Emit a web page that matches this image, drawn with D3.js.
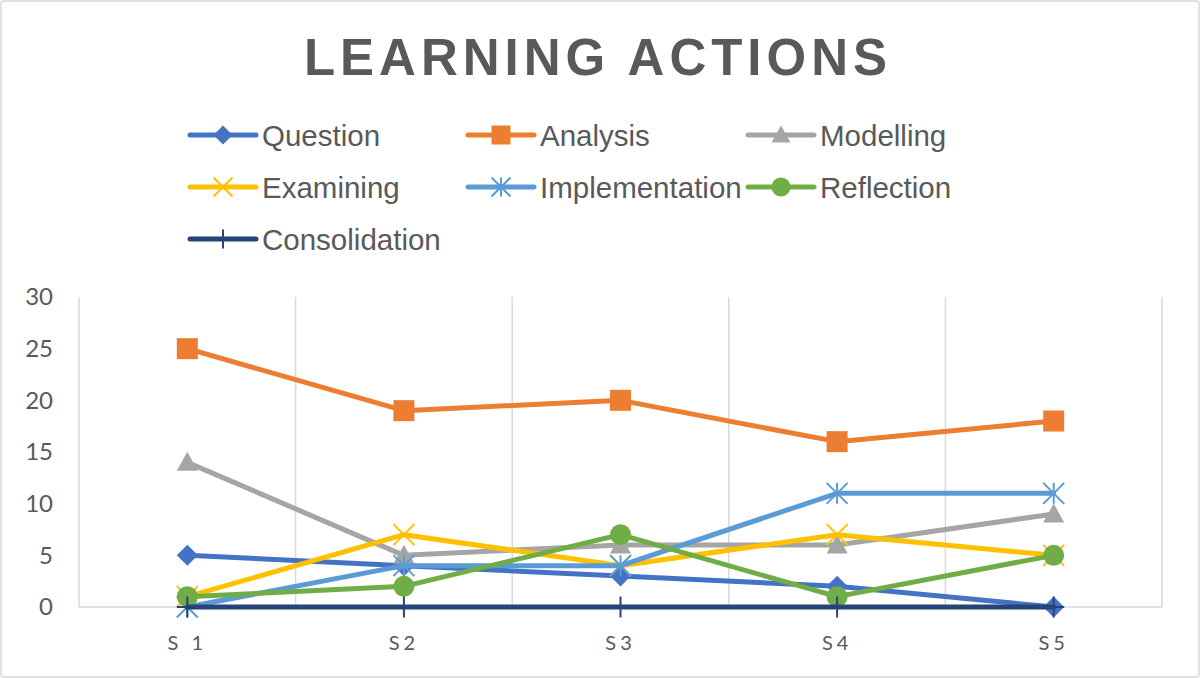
<!DOCTYPE html>
<html>
<head>
<meta charset="utf-8">
<script src="https://cdn.jsdelivr.net/npm/d3@7"></script>
<style>
  body { margin: 0; background: #fff; }
  svg { display: block; }
</style>
</head>
<body>
<div id="app"></div>
<script>
// chart data
const sessions = ['S 1', 'S2', 'S3', 'S4', 'S5']
const seriesNames = ['Question', 'Analysis', 'Modelling', 'Examining', 'Implementation', 'Reflection', 'Consolidation']
const question = [5, 4, 3, 2, 0]
const analysis = [25, 19, 20, 16, 18]
const modelling = [14, 5, 6, 6, 9]
const examining = [1, 7, 4, 7, 5]
const implementation = [0, 4, 4, 11, 11]
const reflection = [1, 2, 7, 1, 5]
const consolidation = [0, 0, 0, 0, 0]
const yTicks = [0, 5, 10, 15, 20, 25, 30]

const colors = ['#4472C4', '#ED7D31', '#A5A5A5', '#FFC000', '#5B9BD5', '#70AD47', '#264478']
const markers = ['diamond', 'square', 'triangle', 'x', 'star', 'circle', 'plus']
const values = [question, analysis, modelling, examining, implementation, reflection, consolidation]

const series = seriesNames.map((name, i) => ({ name, color: colors[i], marker: markers[i], values: values[i] }))

const W = 1200, H = 678
const plot = { left: 79, right: 1162, top: 297, bottom: 607 }

const svg = d3.select('#app').append('svg').attr('width', W).attr('height', H)

svg.append('rect')
  .attr('x', 1).attr('y', 1).attr('width', W - 2).attr('height', H - 2)
  .attr('rx', 3)
  .attr('fill', '#fff').attr('stroke', '#d9d9d9').attr('stroke-width', 1.5)

// title
svg.append('text')
  .attr('x', 598).attr('y', 75)
  .attr('text-anchor', 'middle')
  .style('font-family', '"Liberation Sans", Arial, sans-serif')
  .style('font-weight', 'bold')
  .style('font-size', '51px')
  .style('letter-spacing', '5px')
  .style('fill', '#595959')
  .text('LEARNING ACTIONS')

const x = d3.scaleBand().domain(sessions).range([plot.left, plot.right])
const y = d3.scaleLinear().domain([0, 30]).range([plot.bottom, plot.top])

// vertical gridlines on category boundaries
const bounds = sessions.map(s => x(s)).concat([plot.right])
svg.append('g').selectAll('line').data(bounds).join('line')
  .attr('x1', d => d).attr('x2', d => d)
  .attr('y1', plot.top).attr('y2', plot.bottom)
  .attr('stroke', '#d9d9d9').attr('stroke-width', 1.5)

svg.append('line')
  .attr('x1', plot.left).attr('x2', plot.right)
  .attr('y1', plot.bottom).attr('y2', plot.bottom)
  .attr('stroke', '#d9d9d9').attr('stroke-width', 1.5)

// y axis labels
const yAxis = d3.axisLeft(y).tickValues(yTicks).tickSize(0).tickPadding(0)
svg.append('g')
  .attr('transform', `translate(${plot.left - 26},0)`)
  .call(yAxis)
  .call(g => g.select('.domain').remove())
  .call(g => g.selectAll('text')
    .style('font-family', 'Lato, "Open Sans", sans-serif')
    .style('font-size', '24px')
    .style('fill', '#595959'))

// x axis labels
const xAxis = d3.axisBottom(x).tickSize(0).tickPadding(0)
svg.append('g')
  .attr('transform', `translate(0,${plot.bottom + 29})`)
  .call(xAxis)
  .call(g => g.select('.domain').remove())
  .call(g => g.selectAll('text')
    .attr('dy', '0.71em')
    .style('font-family', 'Lato, "Open Sans", sans-serif')
    .style('font-size', '20px')
    .style('letter-spacing', '4px')
    .style('fill', '#595959'))

const cx = s => x(s) + x.bandwidth() / 2

function drawMarker (g, type, color, size) {
  const r = size / 2
  if (type === 'diamond') {
    g.append('path').attr('d', `M0,${-r}L${r},0L0,${r}L${-r},0Z`).attr('fill', color)
  } else if (type === 'square') {
    g.append('rect').attr('x', -r).attr('y', -r).attr('width', size).attr('height', size).attr('fill', color)
  } else if (type === 'triangle') {
    g.append('path').attr('d', `M0,${-r}L${r},${r * 0.8}L${-r},${r * 0.8}Z`).attr('fill', color)
  } else if (type === 'circle') {
    g.append('circle').attr('r', r).attr('fill', color)
  } else if (type === 'x') {
    g.append('path').attr('d', `M${-r},${-r}L${r},${r}M${-r},${r}L${r},${-r}`)
      .attr('stroke', color).attr('stroke-width', 2)
  } else if (type === 'star') {
    g.append('path').attr('d', `M${-r},${-r}L${r},${r}M${-r},${r}L${r},${-r}M0,${-r}L0,${r}`)
      .attr('stroke', color).attr('stroke-width', 2)
  } else if (type === 'plus') {
    g.append('path').attr('d', `M0,${-r}L0,${r}M${-r},0L${r},0`)
      .attr('stroke', color).attr('stroke-width', 2)
  }
}

const line = d3.line().x((d, i) => cx(sessions[i])).y(d => y(d))

series.forEach(s => {
  const g = svg.append('g')
  g.append('path')
    .datum(s.values)
    .attr('d', line)
    .attr('fill', 'none')
    .attr('stroke', s.color)
    .attr('stroke-width', 5)
    .attr('stroke-linejoin', 'round')
    .attr('stroke-linecap', 'round')
  s.values.forEach((v, i) => {
    const m = g.append('g').attr('transform', `translate(${cx(sessions[i])},${y(v)})`)
    drawMarker(m, s.marker, s.color, 21)
  })
})

// legend
const legendCols = [190, 468, 748]
const legendRows = [135, 187, 239]
series.forEach((s, i) => {
  const lx = legendCols[i % 3], ly = legendRows[Math.floor(i / 3)]
  const g = svg.append('g').attr('transform', `translate(${lx},${ly})`)
  g.append('line')
    .attr('x1', 0).attr('x2', 66).attr('y1', 0).attr('y2', 0)
    .attr('stroke', s.color).attr('stroke-width', 5).attr('stroke-linecap', 'round')
  const m = g.append('g').attr('transform', 'translate(33,0)')
  drawMarker(m, s.marker, s.color, 19)
  g.append('text')
    .attr('x', 72).attr('y', 0).attr('dy', '0.36em')
    .style('font-family', '"Liberation Sans", Arial, sans-serif')
    .style('font-size', '29.5px')
    .style('fill', '#595959')
    .text(s.name)
})
</script>
</body>
</html>
